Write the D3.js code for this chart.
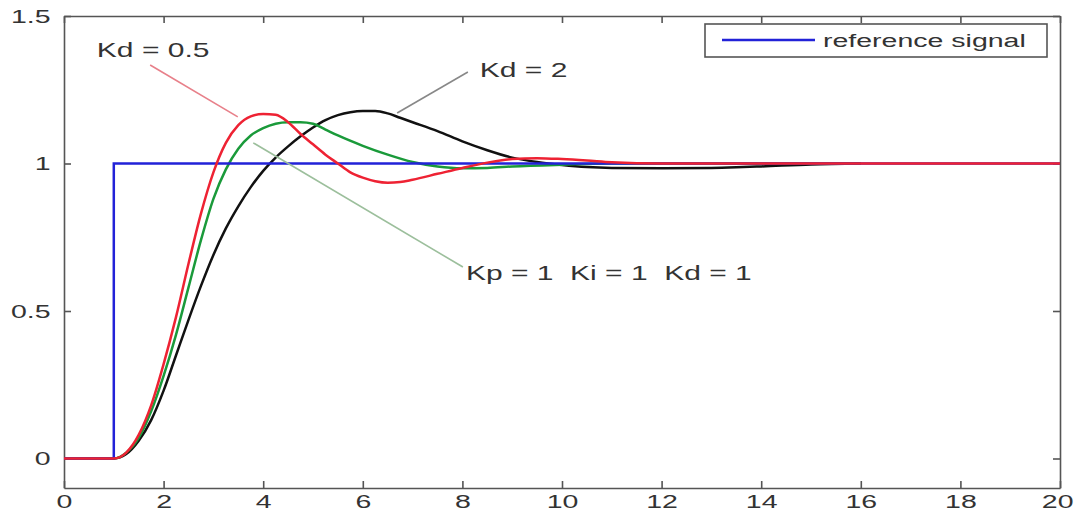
<!DOCTYPE html>
<html>
<head>
<meta charset="utf-8">
<script src="https://cdn.jsdelivr.net/npm/d3@7"></script>
<style>
body { margin: 0; background: #fff; }
svg text { font-family: "Liberation Sans", Arial, sans-serif; fill: #333; }
</style>
</head>
<body>
<svg id="chart" width="1074" height="513"></svg>
<script>
// data
const xTickValues = [0, 2, 4, 6, 8, 10, 12, 14, 16, 18, 20];
const yTickValues = [0, 0.5, 1, 1.5];

const refSignal = [[0, 0], [1, 0], [1, 1], [20, 1]];

const kd2 = [[0, 0], [1, 0], [1.25, 0.015], [1.5, 0.06], [1.75, 0.13], [2, 0.23], [2.25, 0.35], [2.5, 0.47],
    [2.75, 0.585], [3, 0.69], [3.25, 0.78], [3.5, 0.855], [3.75, 0.92], [4, 0.975], [4.25, 1.02], [4.5, 1.058],
    [4.75, 1.092], [5, 1.122], [5.25, 1.147], [5.5, 1.164], [5.75, 1.174], [6, 1.178], [6.25, 1.178], [6.5, 1.17],
    [6.75, 1.155], [7, 1.14], [7.5, 1.11], [8, 1.075], [8.5, 1.045], [9, 1.02], [9.5, 1.005], [10, 0.995],
    [10.5, 0.988], [11, 0.985], [12, 0.984], [13, 0.985], [13.5, 0.987], [14, 0.99], [15, 0.997], [16, 1.0]];

const kd1 = [[0, 0], [1, 0], [1.25, 0.02], [1.5, 0.07], [1.75, 0.16], [2, 0.28], [2.25, 0.42], [2.5, 0.58],
    [2.75, 0.74], [3, 0.88], [3.25, 0.98], [3.5, 1.05], [3.75, 1.095], [4, 1.12], [4.25, 1.135], [4.5, 1.14],
    [4.75, 1.14], [5, 1.135], [5.25, 1.115], [5.5, 1.095], [6, 1.06], [6.5, 1.03], [7, 1.005], [7.5, 0.99],
    [8, 0.984], [8.5, 0.985], [9, 0.99], [10, 0.996], [11, 1.0], [16, 1.0]];

const kd05 = [[0, 0], [1, 0], [1.25, 0.02], [1.5, 0.08], [1.75, 0.18], [2, 0.32], [2.25, 0.48], [2.5, 0.66],
    [2.75, 0.83], [3, 0.97], [3.25, 1.07], [3.5, 1.13], [3.75, 1.16], [4, 1.168], [4.25, 1.165], [4.5, 1.14],
    [4.75, 1.1], [5, 1.065], [5.25, 1.03], [5.5, 1.0], [5.75, 0.97], [6, 0.952], [6.25, 0.94], [6.5, 0.935],
    [6.75, 0.937], [7, 0.945], [7.5, 0.965], [8, 0.985], [8.5, 1.003], [9, 1.015], [9.5, 1.018], [10, 1.015],
    [10.5, 1.01], [11, 1.004], [12, 1.0], [20, 1.0]];

// annotation texts: [label, x, y] and pointer lines [x1, y1, x2, y2]
const annoLabels = [["Kd = 0.5", 0.66, 1.36], ["Kd = 2", 8.35, 1.293], ["Kp = 1  Ki = 1  Kd = 1", 8.07, 0.605]];
const annoLines = [[1.73, 1.334, 3.49, 1.158], [8.11, 1.31, 6.69, 1.171], [3.8, 1.07, 8.01, 0.649]];
const annoColors = ["#e8808a", "#888888", "#9cbf9c"];

const legendLabel = "reference signal";

const plotLeft = 64, plotRight = 1060, plotTop = 16, plotBottom = 488;
const stretch = 1.5;

const svg = d3.select("#chart");

const x = d3.scaleLinear().domain([0, 20]).range([plotLeft, plotRight]);
const y = d3.scaleLinear().domain([-0.1, 1.5]).range([plotBottom, plotTop]);

svg.append("rect")
    .attr("x", plotLeft).attr("y", plotTop)
    .attr("width", plotRight - plotLeft).attr("height", plotBottom - plotTop)
    .style("fill", "#fff");

// axes with inward ticks, matlab style
const gx = svg.append("g")
    .attr("transform", "translate(0," + plotBottom + ")")
    .call(d3.axisBottom(x).tickValues(xTickValues).tickSizeInner(-7).tickSizeOuter(0).tickPadding(7).tickFormat(d => String(d)));
gx.selectAll("text").attr("transform", "scale(" + stretch + ",1)");
// last label sits against the window edge
gx.selectAll("text").filter(d => d === 20).attr("text-anchor", "end").attr("x", 13 / stretch);

const gy = svg.append("g")
    .attr("transform", "translate(" + plotLeft + ",0)")
    .call(d3.axisLeft(y).tickValues(yTickValues).tickSizeInner(-7).tickSizeOuter(0).tickPadding(9).tickFormat(d => String(d)));
gy.selectAll("text").attr("transform", "scale(" + stretch + ",1)");

svg.append("g")
    .attr("transform", "translate(0," + plotTop + ")")
    .call(d3.axisTop(x).tickValues(xTickValues).tickSizeInner(-7).tickSizeOuter(0).tickFormat(""));

svg.append("g")
    .attr("transform", "translate(" + plotRight + ",0)")
    .call(d3.axisRight(y).tickValues(yTickValues).tickSizeInner(-7).tickSizeOuter(0).tickFormat(""));

svg.selectAll(".domain, .tick line").style("stroke", "#555").style("stroke-width", 1.6);
svg.selectAll(".tick text").style("font-size", "19px").style("fill", "#333");

const line = d3.line().x(d => x(d[0])).y(d => y(d[1])).curve(d3.curveMonotoneX);
const stepLine = d3.line().x(d => x(d[0])).y(d => y(d[1]));

svg.append("path").datum(kd2).attr("d", line)
    .style("fill", "none").style("stroke", "#111").style("stroke-width", 2.5);
svg.append("path").datum(kd1).attr("d", line)
    .style("fill", "none").style("stroke", "#1a9a3a").style("stroke-width", 2.5);
svg.append("path").datum(refSignal).attr("d", stepLine)
    .style("fill", "none").style("stroke", "#2222d8").style("stroke-width", 2.5);
svg.append("path").datum(kd05).attr("d", line)
    .style("fill", "none").style("stroke", "#ee2233").style("stroke-width", 2.5);

// annotations
svg.selectAll(".anno-line")
    .data(annoLines)
    .enter()
    .append("line")
    .attr("class", "anno-line")
    .attr("x1", d => x(d[0])).attr("y1", d => y(d[1]))
    .attr("x2", d => x(d[2])).attr("y2", d => y(d[3]))
    .style("stroke", (d, i) => annoColors[i])
    .style("stroke-width", 1.6);

svg.selectAll(".anno-text")
    .data(annoLabels)
    .enter()
    .append("text")
    .attr("class", "anno-text")
    .attr("xml:space", "preserve")
    .attr("transform", d => "translate(" + x(d[1]) + "," + y(d[2]) + ") scale(" + stretch + ",1)")
    .style("font-size", "20px")
    .text(d => d[0]);

// legend
const lg = svg.append("g");
lg.append("rect")
    .attr("x", 705).attr("y", 24).attr("width", 342).attr("height", 33)
    .style("fill", "#fff").style("stroke", "#555").style("stroke-width", 1.6);
lg.append("line")
    .attr("x1", 722).attr("x2", 815).attr("y1", 40).attr("y2", 40)
    .style("stroke", "#2222d8").style("stroke-width", 2.5);
lg.append("text")
    .attr("transform", "translate(823,47) scale(" + stretch + ",1)")
    .style("font-size", "19px")
    .text(legendLabel);
</script>
</body>
</html>
